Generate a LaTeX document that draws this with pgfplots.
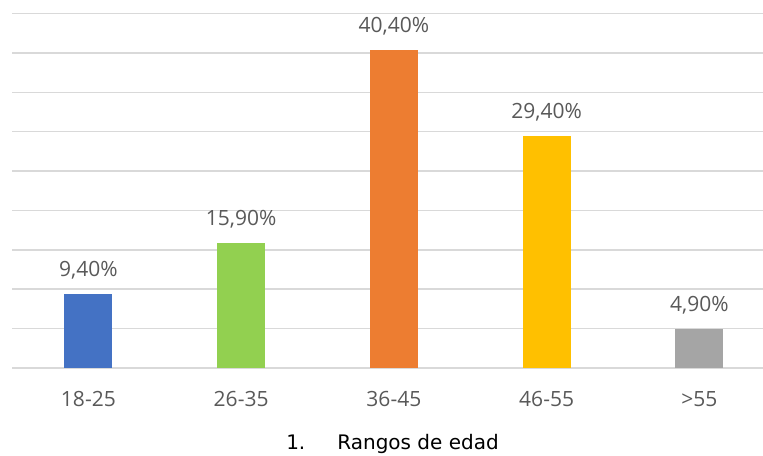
\documentclass[border=0pt]{standalone}
\usepackage{pgfplots}
\pgfplotsset{compat=1.18}
\usepackage{fontspec}
\setmainfont{Open Sans}
\newfontfamily\titlefont{DejaVu Sans}
\definecolor{cblue}{HTML}{4472C4}
\definecolor{cgreen}{HTML}{92D050}
\definecolor{corange}{HTML}{ED7D31}
\definecolor{cyellow}{HTML}{FFC000}
\definecolor{cgrey}{HTML}{A5A5A5}
\definecolor{gridc}{HTML}{D9D9D9}
\definecolor{labc}{HTML}{595959}
\begin{document}
\begin{tikzpicture}
\useasboundingbox (0,0) rectangle (763bp,456bp);
\begin{axis}[
  at={(12bp,88bp)}, anchor=south west,
  scale only axis,
  width=763.75bp, height=354.5bp,
  xmin=-0.5, xmax=4.5,
  ymin=0, ymax=45,
  ytick={0,5,...,45},
  yticklabels={},
  ymajorgrids,
  grid style={gridc, line width=1.5bp},
  axis line style={draw=none},
  major tick length=0pt,
  xtick={0,1,2,3,4},
  xticklabels={18-25,26-35,36-45,46-55,>55},
  xticklabel style={font=\fontsize{21bp}{25bp}\selectfont, text=labc, anchor=base, yshift=-39bp},
  ybar, bar width=48bp, bar shift=0pt,
  nodes near coords={\pgfmathprintnumber[fixed,fixed zerofill,precision=2,use comma,assume math mode=true]{\pgfplotspointmeta}\%},
  nodes near coords style={font=\fontsize{21bp}{25bp}\selectfont, text=labc, anchor=base, yshift=17.5bp},
  clip=false,
]
\addplot[fill=cblue, draw=none] coordinates {(0,9.4)};
\addplot[fill=cgreen, draw=none] coordinates {(1,15.9)};
\addplot[fill=corange, draw=none] coordinates {(2,40.4)};
\addplot[fill=cyellow, draw=none] coordinates {(3,29.4)};
\addplot[fill=cgrey, draw=none] coordinates {(4,4.9)};
\end{axis}
\node[anchor=base, font=\titlefont\fontsize{20bp}{24bp}\selectfont, text=black] at (392.5bp,7bp) {1.\hspace{32bp}Rangos de edad};
\end{tikzpicture}
\end{document}
